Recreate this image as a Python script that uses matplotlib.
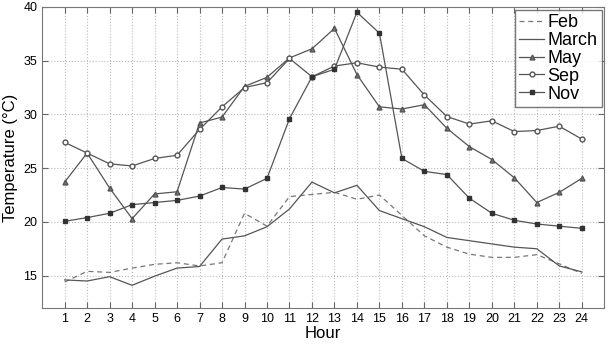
import matplotlib
matplotlib.use('Agg')
import matplotlib.pyplot as plt

plt.rcParams['font.family'] = ['Liberation Sans', 'DejaVu Sans']

# Datos
hours = list(range(1, 25))
feb = [14.4, 15.4, 15.3, 15.7, 16.05, 16.2, 15.9, 16.2, 20.8, 19.6, 22.35, 22.55,
       22.75, 22.1, 22.5, 20.6, 18.7, 17.65, 17.0, 16.7, 16.7, 16.95, 16.1, 15.2]
march = [14.6, 14.5, 14.9, 14.1, 14.95, 15.7, 15.85, 18.4, 18.7, 19.55, 21.2, 23.7,
         22.7, 23.4, 21.05, 20.3, 19.55, 18.55, 18.25, 17.95, 17.65, 17.5, 15.9, 15.35]
may = [23.7, 26.4, 23.15, 20.3, 22.6, 22.8, 29.2, 29.75, 32.6, 33.45, 35.25, 36.1,
       38.0, 33.7, 30.7, 30.5, 30.9, 28.7, 27.0, 25.8, 24.1, 21.8, 22.75, 24.05]
sep = [27.4, 26.4, 25.4, 25.2, 25.9, 26.2, 28.6, 30.7, 32.5, 32.95, 35.2, 33.5,
       34.5, 34.8, 34.4, 34.2, 31.8, 29.8, 29.1, 29.4, 28.4, 28.5, 28.9, 27.7]
nov = [20.05, 20.4, 20.8, 21.6, 21.8, 22.0, 22.4, 23.2, 23.05, 24.05, 29.6, 33.5,
       34.2, 39.5, 37.55, 25.9, 24.7, 24.4, 22.2, 20.8, 20.15, 19.8, 19.6, 19.4]

c = '#555555'
fig = plt.figure(figsize=(6.11, 3.44), dpi=100)
ax = fig.add_axes([0.069, 0.105, 0.92, 0.875])

ax.plot(hours, feb, linestyle=(0, (4, 3)), color='#777777', lw=0.9, label='Feb')
ax.plot(hours, march, linestyle='-', color=c, lw=0.9, label='March')
ax.plot(hours, may, '-^', color=c, lw=0.9, ms=3.5, mfc='#777777', mec=c, label='May')
ax.plot(hours, sep, '-o', color=c, lw=0.9, ms=3.5, mfc='white', mec=c, label='Sep')
ax.plot(hours, nov, '-s', color=c, lw=0.9, ms=3, mfc='#333333', mec='#333333', label='Nov')

ax.set_xlim(0, 25)
ax.set_ylim(12, 40)
ax.set_xticks(hours)
ax.set_yticks([15, 20, 25, 30, 35, 40])
ax.tick_params(direction='in', top=True, right=True, labelsize=9, length=4, color='#666666')
ax.grid(True, linestyle=':', color='#bbbbbb', lw=0.8)
for s in ax.spines.values():
    s.set_color('#777777')

ax.set_xlabel('Hour', fontsize=12, labelpad=1)
ax.set_ylabel('Temperature (°C)', fontsize=12, labelpad=4)

leg = ax.legend(loc='upper right', fontsize=13, handlelength=1.4, handletextpad=0.15,
                labelspacing=0.05, borderpad=0.25, borderaxespad=0.15, fancybox=False)
leg.get_frame().set_edgecolor('#555555')
leg.get_frame().set_linewidth(1.0)

fig.savefig('out.png', dpi=100)
